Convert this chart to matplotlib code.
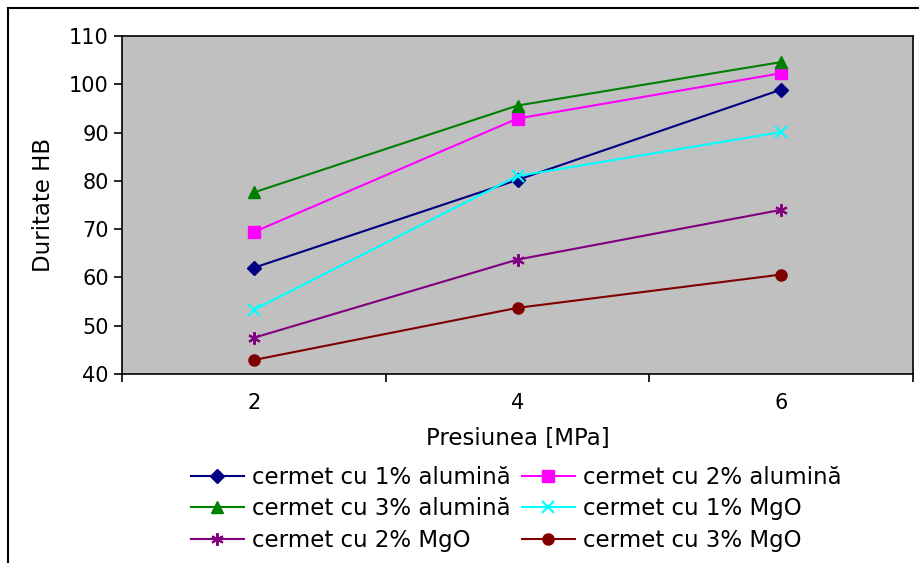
import numpy as np
import matplotlib
matplotlib.use('Agg')
import matplotlib.pyplot as plt
from matplotlib.patches import Rectangle
matplotlib.rcParams.update({'font.size': 16.5, 'font.family': 'DejaVu Sans'})

pressure = ['2', '4', '6']
alumina_1 = [62.0, 80.2, 98.9]
alumina_2 = [69.4, 92.9, 102.3]
alumina_3 = [77.6, 95.6, 104.6]
mgo_1 = [53.3, 81.0, 90.1]
mgo_2 = [47.5, 63.7, 74.0]
mgo_3 = [42.9, 53.7, 60.6]

names = ['cermet cu 1% alumină', 'cermet cu 2% alumină', 'cermet cu 3% alumină',
         'cermet cu 1% MgO', 'cermet cu 2% MgO', 'cermet cu 3% MgO']
series = [alumina_1, alumina_2, alumina_3, mgo_1, mgo_2, mgo_3]
colors = ['#000080', '#FF00FF', '#008000', '#00FFFF', '#800080', '#800000']
markers = ['D', 's', '^', 'x', (6, 2, 0), 'o']
msizes = [7, 8, 9, 8, 9, 8]

fig = plt.figure(figsize=(9.2, 5.63), dpi=100)
fig.patches.append(Rectangle((8/920, -0.1), 1.2, 1 - 8/563 + 0.1, transform=fig.transFigure,
                             fill=False, edgecolor='black', linewidth=1.5))

ax = fig.add_axes([122/920, 1 - 374/563, (913-122)/920, (374-36)/563])
ax.set_facecolor('#C0C0C0')
x = np.arange(len(pressure))
lines = []
for vals, name, c, m, ms in zip(series, names, colors, markers, msizes):
    l, = ax.plot(x, vals, color=c, marker=m, markersize=ms, linewidth=1.5, label=name,
                 markeredgewidth=1.5 if m in ('x', (6, 2, 0)) else 1)
    lines.append(l)

ax.set_xlim(-0.5, 2.5)
ax.set_ylim(40, 110)
ax.set_yticks(np.arange(40, 111, 10))
ax.set_xticks(x)
ax.set_xticklabels(pressure)
ax.set_xticks(np.arange(-0.5, 2.6, 1), minor=True)
ax.tick_params(axis='x', which='major', length=0, pad=14, labelsize=15)
ax.tick_params(axis='x', which='minor', length=6, width=1.2, direction='out')
ax.tick_params(axis='y', length=6, width=1.2, direction='out', labelsize=15)
for s in ax.spines.values():
    s.set_linewidth(1.2)
ax.set_ylabel('Duritate HB', labelpad=10)
ax.set_xlabel('Presiunea [MPa]', labelpad=10)

# legend filled row by row like the original
order = [0, 2, 4, 1, 3, 5]
ax.legend([lines[i] for i in order], [names[i] for i in order],
          loc='upper left', bbox_to_anchor=(191/920, 1 - 466/563), bbox_transform=fig.transFigure,
          ncol=2, frameon=False, handlelength=2.3, columnspacing=0.5, handletextpad=0.35,
          labelspacing=0.37, borderaxespad=0, borderpad=0)

plt.savefig('out.png', dpi=100)
